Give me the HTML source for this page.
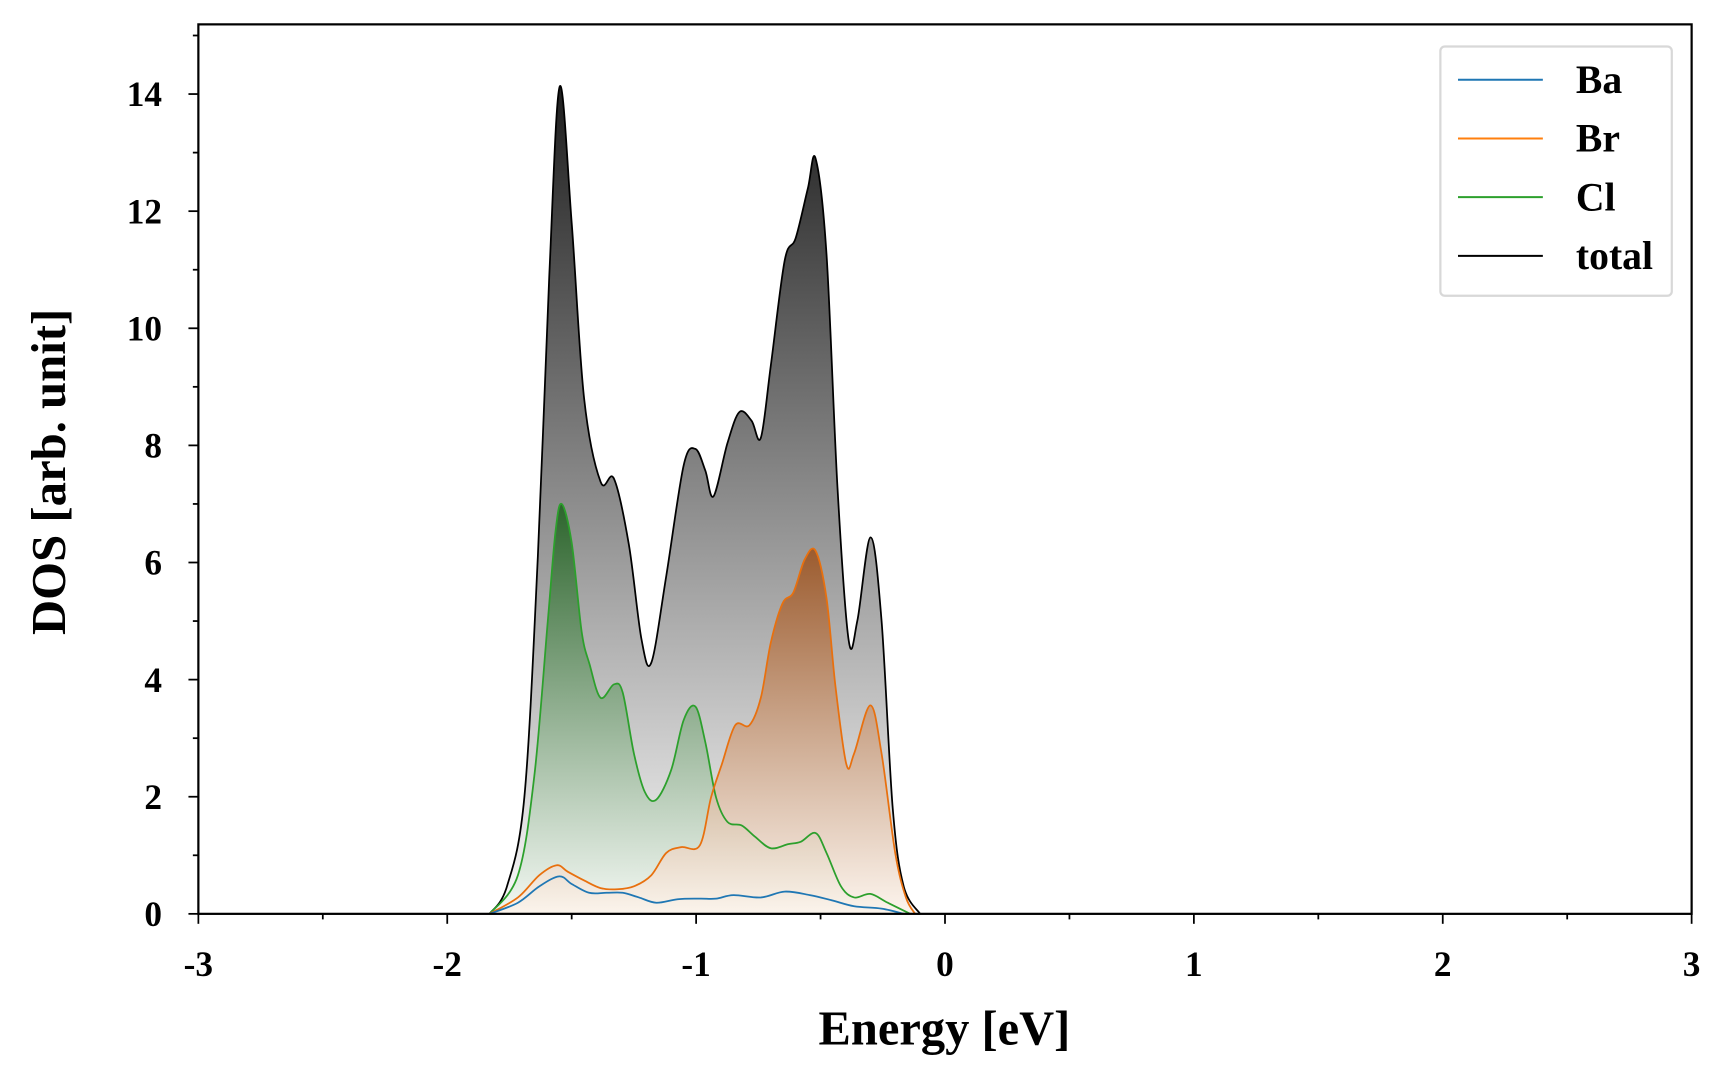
<!DOCTYPE html>
<html><head><meta charset="utf-8"><style>
html,body{margin:0;padding:0;background:#fff;}
svg{display:block;font-family:"Liberation Serif",serif;font-weight:bold;}
</style></head><body>
<svg id="chart" width="1728" height="1080" viewBox="0 0 1568 975" preserveAspectRatio="none" xmlns="http://www.w3.org/2000/svg">
<defs>
<linearGradient id="gTot" x1="0" y1="0" x2="0" y2="1"><stop offset="0" stop-color="#1e1e1e"/><stop offset="1" stop-color="#fafafa"/></linearGradient>
<linearGradient id="gCl" x1="0" y1="0" x2="0" y2="1"><stop offset="0" stop-color="#1c5e1c"/><stop offset="1" stop-color="#f2f8f2"/></linearGradient>
<linearGradient id="gBr" x1="0" y1="0" x2="0" y2="1"><stop offset="0" stop-color="#9c4c14"/><stop offset="1" stop-color="#fdf3ea"/></linearGradient>
</defs>
<g id="fills"></g><g id="lines"></g><g id="axes"></g>
</svg>
<script>
const totE=[-1.83,-1.76,-1.69,-1.636,-1.59,-1.548,-1.50,-1.45,-1.384,-1.33,-1.27,-1.22,-1.18,-1.12,-1.05,-1.003,-0.963,-0.93,-0.874,-0.826,-0.777,-0.74,-0.70,-0.644,-0.60,-0.551,-0.52,-0.476,-0.432,-0.387,-0.352,-0.299,-0.255,-0.21,-0.166,-0.10];
const totV=[0,0.47,2.0,6.1,10.9,14.13,11.8,8.8,7.38,7.43,6.3,4.7,4.29,5.77,7.66,7.94,7.57,7.13,8.04,8.57,8.42,8.13,9.36,11.16,11.54,12.39,12.9,11.26,7.28,4.67,5.01,6.43,5.01,1.8,0.47,0];
const clE=[-1.83,-1.716,-1.65,-1.596,-1.565,-1.54,-1.50,-1.46,-1.428,-1.384,-1.33,-1.295,-1.25,-1.206,-1.16,-1.10,-1.05,-1.003,-0.963,-0.92,-0.874,-0.817,-0.764,-0.70,-0.63,-0.58,-0.52,-0.476,-0.418,-0.365,-0.30,-0.23,-0.14];
const clV=[0,0.66,2.36,5.0,6.53,7.0,6.34,4.82,4.26,3.69,3.92,3.78,2.74,2.08,1.95,2.46,3.31,3.54,2.93,1.99,1.57,1.51,1.32,1.12,1.19,1.23,1.38,1.04,0.47,0.28,0.34,0.19,0];
const brE=[-1.83,-1.716,-1.63,-1.56,-1.516,-1.45,-1.384,-1.317,-1.25,-1.18,-1.12,-1.06,-0.985,-0.94,-0.897,-0.843,-0.786,-0.74,-0.70,-0.653,-0.609,-0.564,-0.52,-0.476,-0.44,-0.396,-0.365,-0.30,-0.255,-0.20,-0.157,-0.12];
const brV=[0,0.28,0.66,0.83,0.72,0.57,0.44,0.42,0.47,0.66,1.04,1.14,1.17,1.99,2.55,3.22,3.22,3.69,4.63,5.30,5.49,6.05,6.2,5.39,3.88,2.55,2.74,3.56,2.74,1.04,0.28,0];
const baE=[-1.83,-1.716,-1.63,-1.55,-1.50,-1.43,-1.36,-1.295,-1.23,-1.16,-1.074,-0.985,-0.92,-0.85,-0.74,-0.644,-0.543,-0.454,-0.365,-0.255,-0.166];
const baV=[0,0.19,0.47,0.64,0.51,0.36,0.36,0.36,0.28,0.19,0.25,0.26,0.26,0.32,0.28,0.38,0.32,0.23,0.13,0.09,0];
const xTicks=[-3,-2,-1,0,1,2,3];
const yTicks=[0,2,4,6,8,10,12,14];
const legendLabels=["Ba","Br","Cl","total"];
const legendColors=["#1f77b4","#ff7f0e","#2ca02c","#000000"];

const L=180,R=1535,T=22,B=825,xmin=-3,xmax=3,ymin=0,ymax=15.19;
const X=e=>L+(e-xmin)/(xmax-xmin)*(R-L);
const Y=v=>B-(v-ymin)/(ymax-ymin)*(B-T);
const NS="http://www.w3.org/2000/svg";
function mk(tag,attrs,parent){const el=document.createElementNS(NS,tag);for(const k in attrs)el.setAttribute(k,attrs[k]);parent.appendChild(el);return el;}
function curve(E,V){
  const p=E.map((e,i)=>[X(e),Y(V[i])]);
  let d="M"+p[0][0]+","+p[0][1];
  for(let i=0;i<p.length-1;i++){
    const p0=p[Math.max(0,i-1)],p1=p[i],p2=p[i+1],p3=p[Math.min(p.length-1,i+2)];
    const c1=[p1[0]+(p2[0]-p0[0])/6,p1[1]+(p2[1]-p0[1])/6];
    const c2=[p2[0]-(p3[0]-p1[0])/6,p2[1]-(p3[1]-p1[1])/6];
    d+=` C${c1[0]},${Math.min(c1[1],B)} ${c2[0]},${Math.min(c2[1],B)} ${p2[0]},${p2[1]}`;
  }
  return d;
}
const fills=document.getElementById('fills'),lines=document.getElementById('lines'),axes=document.getElementById('axes');
function series(E,V,color,grad,op,name){
  const d=curve(E,V);
  if(grad){
    const f=mk('path',{d:`M${X(E[0])},${B} `+d.slice(1)+` L${X(E[E.length-1])},${B} Z`,fill:`url(#${grad})`,'fill-opacity':op},fills);
    
    
  }
  const l=mk('path',{d:d,fill:'none',stroke:color,'stroke-width':1.6},lines);
  
  
}
series(totE,totV,'#000','gTot',1,'total');
series(clE,clV,'#2ca02c','gCl',0.85,'cl');
series(brE,brV,'#e8700e','gBr',0.8,'br');
series(baE,baV,'#1f77b4',null,1,'ba');
const fr=mk('rect',{x:L,y:T,width:R-L,height:B-T,fill:'none',stroke:'#000','stroke-width':2},axes);


for(let e=-3;e<=3.001;e+=0.5){const major=Math.abs(e-Math.round(e))<1e-6;mk('line',{x1:X(e),x2:X(e),y1:B,y2:B+(major?9:5),stroke:'#000','stroke-width':1.6},axes);}
for(let v=0;v<=15;v+=1){const major=v%2===0;mk('line',{x1:L,x2:L-(major?9:5),y1:Y(v),y2:Y(v),stroke:'#000','stroke-width':1.6},axes);}
xTicks.forEach(t=>{const el=mk('text',{x:X(t),y:B+56,'text-anchor':'middle','font-size':32},axes);el.textContent=String(t);

});
yTicks.forEach(t=>{const el=mk('text',{x:L-33,y:Y(t)+11,'text-anchor':'end','font-size':32},axes);el.textContent=String(t);

});
const xt=mk('text',{x:857,y:943,'text-anchor':'middle','font-size':44},axes);xt.textContent='Energy [eV]';


const yt=mk('text',{x:0,y:0,'text-anchor':'middle','font-size':44,transform:'translate(59,426) rotate(-90)'},axes);yt.textContent='DOS [arb. unit]';


const lg=mk('g',{},axes);


mk('rect',{x:1307,y:42,width:210,height:225,rx:4,fill:'#fff','fill-opacity':0.8,stroke:'#d8d8d8','stroke-width':2},lg);
legendLabels.forEach((lab,i)=>{const y=72+i*53;
const g=mk('g',{},lg);


mk('line',{x1:1323,x2:1400,y1:y,y2:y,stroke:legendColors[i],'stroke-width':1.8},g);
const t=mk('text',{x:1430,y:y+12,'font-size':36},g);t.textContent=lab;});
</script>
</body></html>
